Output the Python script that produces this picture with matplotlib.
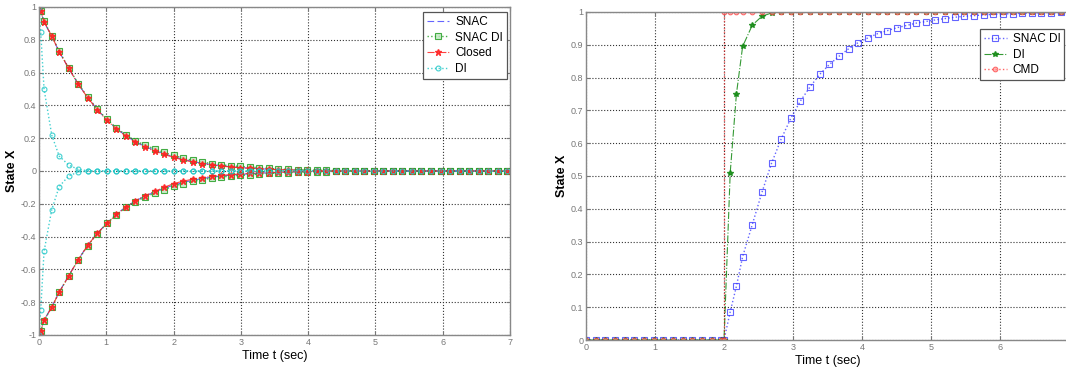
import numpy as np
import matplotlib
matplotlib.use("Agg")
import matplotlib.pyplot as plt

# ---- left panel: regulation from +1 / -1 ----
t_left = np.concatenate([[0.0, 0.025, 0.075, 0.19], np.linspace(0.30, 6.96, 48)])

snac_up = [1.0, 0.975, 0.908, 0.821, 0.727, 0.626, 0.530, 0.447, 0.375, 0.311, 0.259,
           0.215, 0.179, 0.150, 0.126, 0.105, 0.087, 0.071, 0.058, 0.047, 0.039, 0.032,
           0.026, 0.021, 0.017, 0.014, 0.011, 0.009, 0.007, 0.006, 0.004, 0.003, 0.003,
           0.002, 0.002, 0.001, 0.001, 0.001] + [0.0] * 14
snac_dn = [-1.0, -0.975, -0.910, -0.828, -0.738, -0.638, -0.540, -0.452, -0.380, -0.318,
           -0.263, -0.219, -0.182, -0.154, -0.128, -0.106, -0.086, -0.070, -0.057, -0.046,
           -0.038, -0.031, -0.025, -0.021, -0.017, -0.013, -0.011, -0.009, -0.007, -0.005,
           -0.004, -0.003, -0.003, -0.002, -0.002, -0.001, -0.001, -0.001] + [0.0] * 14

snacdi_up = [1.0, 0.976, 0.912, 0.824, 0.730, 0.628, 0.532, 0.450, 0.378, 0.315, 0.263,
             0.220, 0.184, 0.158, 0.135, 0.113, 0.095, 0.079, 0.065, 0.055, 0.045, 0.038,
             0.032, 0.028, 0.024, 0.020, 0.016, 0.012, 0.010, 0.008, 0.006, 0.005, 0.004,
             0.003, 0.002, 0.002, 0.001, 0.001, 0.001] + [0.0] * 13
snacdi_dn = [-1.0, -0.978, -0.912, -0.830, -0.740, -0.640, -0.542, -0.455, -0.382, -0.320,
             -0.266, -0.222, -0.186, -0.160, -0.135, -0.113, -0.093, -0.077, -0.064, -0.053,
             -0.044, -0.037, -0.031, -0.027, -0.023, -0.019, -0.015, -0.012, -0.010, -0.008,
             -0.006, -0.005, -0.004, -0.003, -0.002, -0.002, -0.001, -0.001, -0.001] + [0.0] * 13

closed_up = [1.0, 0.976, 0.909, 0.822, 0.727, 0.626, 0.529, 0.446, 0.374, 0.309, 0.257,
             0.212, 0.176, 0.145, 0.121, 0.101, 0.083, 0.067, 0.055, 0.044, 0.036, 0.030,
             0.024, 0.020, 0.016, 0.013, 0.010, 0.008, 0.007, 0.005, 0.004, 0.003, 0.003,
             0.002, 0.002, 0.001, 0.001, 0.001] + [0.0] * 14
closed_dn = [-1.0, -0.976, -0.910, -0.830, -0.740, -0.640, -0.540, -0.452, -0.380, -0.320,
             -0.265, -0.220, -0.180, -0.150, -0.125, -0.100, -0.077, -0.062, -0.050, -0.040,
             -0.033, -0.027, -0.022, -0.018, -0.015, -0.012, -0.010, -0.008, -0.006, -0.005,
             -0.004, -0.003, -0.002, -0.002, -0.001, -0.001, -0.001, -0.001] + [0.0] * 14

di_up = [1.0, 0.85, 0.50, 0.218, 0.091, 0.036, 0.010, 0.002] + [0.0] * 44
di_dn = [-1.0, -0.85, -0.49, -0.235, -0.095, -0.030, -0.006, -0.001] + [0.0] * 44

# ---- right panel: step command at t = 2 s ----
t_before = [0.0, 0.14, 0.28, 0.42, 0.56, 0.70, 0.84, 0.98, 1.12, 1.26, 1.40, 1.54, 1.68, 1.82, 1.96]
t_after = np.concatenate([[2.0, 2.09, 2.18, 2.27], np.linspace(2.41, 6.88, 33)])
t_right = np.concatenate([t_before, t_after])

snacdi_step = [0.0] * 15 + [0.0, 0.086, 0.164, 0.254, 0.352, 0.450, 0.539, 0.613, 0.676,
                            0.729, 0.772, 0.810, 0.840, 0.865, 0.888, 0.907, 0.921, 0.934,
                            0.943, 0.952, 0.959, 0.966, 0.971, 0.976, 0.980, 0.984, 0.987,
                            0.989, 0.991, 0.993, 0.994, 0.995, 0.996, 0.997, 0.998, 0.998, 0.999]
di_step = [0.0] * 15 + [0.0, 0.51, 0.75, 0.895, 0.96, 0.987, 0.997] + [1.0] * 30
t_cmd = np.concatenate([t_before, [2.0], t_after])
cmd_step = [0.0] * 15 + [0.0] + [1.0] * 37

plt.rcParams['font.family'] = ['Liberation Sans', 'DejaVu Sans']

fig = plt.figure(figsize=(10.66, 3.70), dpi=100, facecolor="white")
ax1 = fig.add_axes([39 / 1066, 35 / 370, 471 / 1066, 328 / 370])
ax2 = fig.add_axes([586 / 1066, 30 / 370, 483 / 1066, 328 / 370])

blue = "#3030ff"
green = "#1a9a1a"
red = "#ff2020"
cyan = "#20c8c8"

for i, (snac, sdi, cl, di) in enumerate([(snac_up, snacdi_up, closed_up, di_up),
                                          (snac_dn, snacdi_dn, closed_dn, di_dn)]):
    lab = (i == 0)
    ax1.plot(t_left, snac, color=blue, ls=(0, (6, 3)), lw=0.8, alpha=0.75,
             label="SNAC" if lab else None)
    ax1.plot(t_left, sdi, color=green, ls=":", lw=1.0, marker="s", ms=5, mfc="#bfe6bf",
             mec=green, mew=0.8, alpha=0.8, label="SNAC DI" if lab else None)
    ax1.plot(t_left, cl, color=red, ls="-.", lw=0.8, marker="*", ms=4.5, alpha=0.85,
             label="Closed" if lab else None)
    ax1.plot(t_left, di, color=cyan, ls=":", lw=1.0, marker="o", ms=3.5, mfc="none",
             mew=0.8, alpha=0.85, label="DI" if lab else None)

ax2.plot(t_right, snacdi_step, color=blue, ls=":", lw=1.0, marker="s", ms=5, mfc="none",
         mew=0.8, alpha=0.75, label="SNAC DI")
ax2.plot(t_right, di_step, color="#118811", ls="-.", lw=0.8, marker="*", ms=4, alpha=0.85,
         label="DI")
ax2.plot(t_cmd, cmd_step, color=red, ls=":", lw=1.0, marker="o", ms=3.5, mfc="#ff9090",
         mew=0.6, alpha=0.7, label="CMD")

for ax in (ax1, ax2):
    ax.set_xlim(0, 7)
    ax.grid(True, color="#333333", ls=":", lw=0.8)
    ax.tick_params(direction="in", length=3, labelsize=6.5, colors="#777777",
                   top=True, right=True, pad=2)
    for sp in ax.spines.values():
        sp.set_color("#888888")
        sp.set_linewidth(1.0)
    ax.set_xlabel("Time t (sec)", fontsize=9, labelpad=2)
    ax.set_ylabel("State X", fontsize=9, fontweight="bold", labelpad=2)

ax1.set_ylim(-1, 1)
ax1.set_yticks(np.arange(-1, 1.01, 0.2))
ax1.set_yticklabels(["-1", "-0.8", "-0.6", "-0.4", "-0.2", "0", "0.2", "0.4", "0.6", "0.8", "1"])
ax1.set_xticks(range(8))

ax2.set_ylim(0, 1)
ax2.set_yticks(np.arange(0, 1.01, 0.1))
ax2.set_yticklabels(["0", "0.1", "0.2", "0.3", "0.4", "0.5", "0.6", "0.7", "0.8", "0.9", "1"])
ax2.set_xticks(range(7))

leg_kw = dict(fontsize=8.5, fancybox=False, framealpha=1, edgecolor="#555555",
              handlelength=1.9, borderpad=0.35, labelspacing=0.3, handletextpad=0.5,
              borderaxespad=0)
l1 = ax1.legend(loc="upper right", bbox_to_anchor=(0.994, 0.985), **leg_kw)
l2 = ax2.legend(loc="upper left", bbox_to_anchor=(0.816, 0.948), **leg_kw)
for l in (l1, l2):
    l.get_frame().set_linewidth(0.9)

fig.savefig("out.png", dpi=100)
